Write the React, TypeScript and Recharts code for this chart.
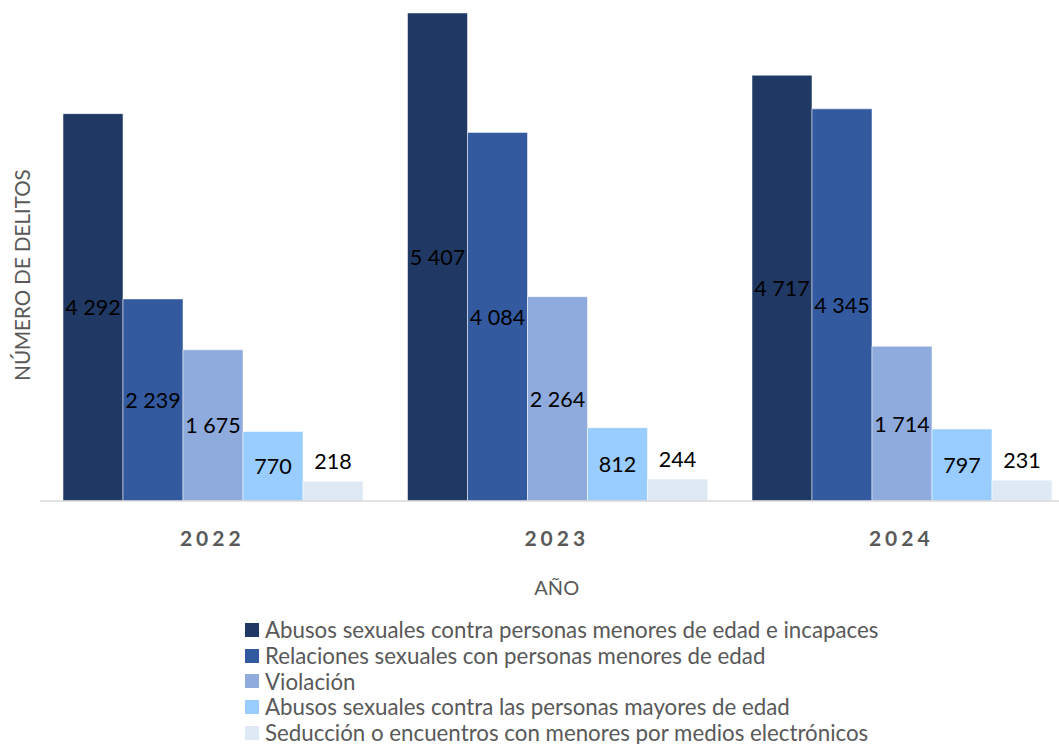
import { BarChart, Bar, XAxis, YAxis, Legend, LabelList } from 'recharts';

const years = ['2022', '2023', '2024'];
const abusosMenores = [4292, 5407, 4717];
const relacionesMenores = [2239, 4084, 4345];
const violacion = [1675, 2264, 1714];
const abusosMayores = [770, 812, 797];
const seduccion = [218, 244, 231];

const series = [
  { key: 'abusosMenores', name: 'Abusos sexuales contra personas menores de edad e incapaces', color: '#203864', values: abusosMenores },
  { key: 'relacionesMenores', name: 'Relaciones sexuales con personas menores de edad', color: '#335a9f', values: relacionesMenores },
  { key: 'violacion', name: 'Violación', color: '#8faadc', values: violacion },
  { key: 'abusosMayores', name: 'Abusos sexuales contra las personas mayores de edad', color: '#99ccff', values: abusosMayores },
  { key: 'seduccion', name: 'Seducción o encuentros con menores por medios electrónicos', color: '#dee9f5', values: seduccion },
];

const data = years.map((year, i) => {
  const row: Record<string, string | number> = { year };
  series.forEach((s) => {
    row[s.key] = s.values[i];
  });
  return row;
});

const FONT = 'Lato, "Open Sans", sans-serif';
const GRAY = '#595959';

const fmt = (v: number) => String(v).replace(/\B(?=(\d{3})+(?!\d))/g, ' ');

function BarValue(props: any) {
  const { x, y, width, height, value } = props;
  const cy = height < 40 ? y - 20 : y + height / 2;
  return (
    <text
      x={x + width / 2}
      y={cy}
      textAnchor="middle"
      dominantBaseline="central"
      fontSize={21.5}
      fontFamily={FONT}
      fill="#000"
    >
      {fmt(value)}
    </text>
  );
}

function YearTick(props: any) {
  const { x, y, payload } = props;
  return (
    <text
      x={x}
      y={y + 28}
      textAnchor="middle"
      dominantBaseline="central"
      fontSize={21}
      fontWeight="bold"
      letterSpacing={4}
      fontFamily={FONT}
      fill={GRAY}
    >
      {payload.value}
    </text>
  );
}

function YTitle() {
  return (
    <text
      x={22}
      y={275}
      transform="rotate(-90 22 275)"
      textAnchor="middle"
      dominantBaseline="central"
      fontSize={20.5}
      fontFamily={FONT}
      fill={GRAY}
    >
      NÚMERO DE DELITOS
    </text>
  );
}

function LegendList() {
  return (
    <div style={{ fontFamily: FONT, fontSize: 22.3, color: GRAY }}>
      {series.map((s) => (
        <div key={s.key} style={{ display: 'flex', alignItems: 'center', height: 25.7, whiteSpace: 'nowrap' }}>
          <span style={{ display: 'inline-block', width: 14, height: 14, background: s.color, marginRight: 6, flexShrink: 0 }} />
          <span>{s.name}</span>
        </div>
      ))}
    </div>
  );
}

export default function App() {
  return (
    <div style={{ position: 'absolute', left: 0, top: 0, width: 1059, height: 744, overflow: 'hidden', background: '#fff' }}>
      <BarChart
        width={1080}
        height={744}
        data={data}
        margin={{ top: 4.6, right: 6.5, bottom: 143, left: 0 }}
        barGap={0}
        barCategoryGap={23}
      >
        <YAxis
          width={40}
          domain={[0, 5500]}
          tick={false}
          axisLine={false}
          tickLine={false}
          label={{ content: () => <YTitle /> }}
        />
        <XAxis
          dataKey="year"
          height={100}
          tickLine={false}
          axisLine={{ stroke: '#d9d9d9', strokeWidth: 1.5 }}
          tick={<YearTick />}
          label={{ value: 'AÑO', position: 'insideBottom', offset: 6, fontSize: 20, fontFamily: FONT, fill: GRAY }}
        />
        <Legend
          layout="vertical"
          verticalAlign="middle"
          align="center"
          wrapperStyle={{ position: 'absolute', left: 245, top: 617, width: 'auto' }}
          content={() => <LegendList />}
        />
        {series.map((s) => (
          <Bar
            key={s.key}
            dataKey={s.key}
            name={s.name}
            fill={s.color}
            stroke="#ffffff"
            strokeOpacity={0.5}
            strokeWidth={1}
            isAnimationActive={false}
          >
            <LabelList dataKey={s.key} content={<BarValue />} />
          </Bar>
        ))}
      </BarChart>
    </div>
  );
}
